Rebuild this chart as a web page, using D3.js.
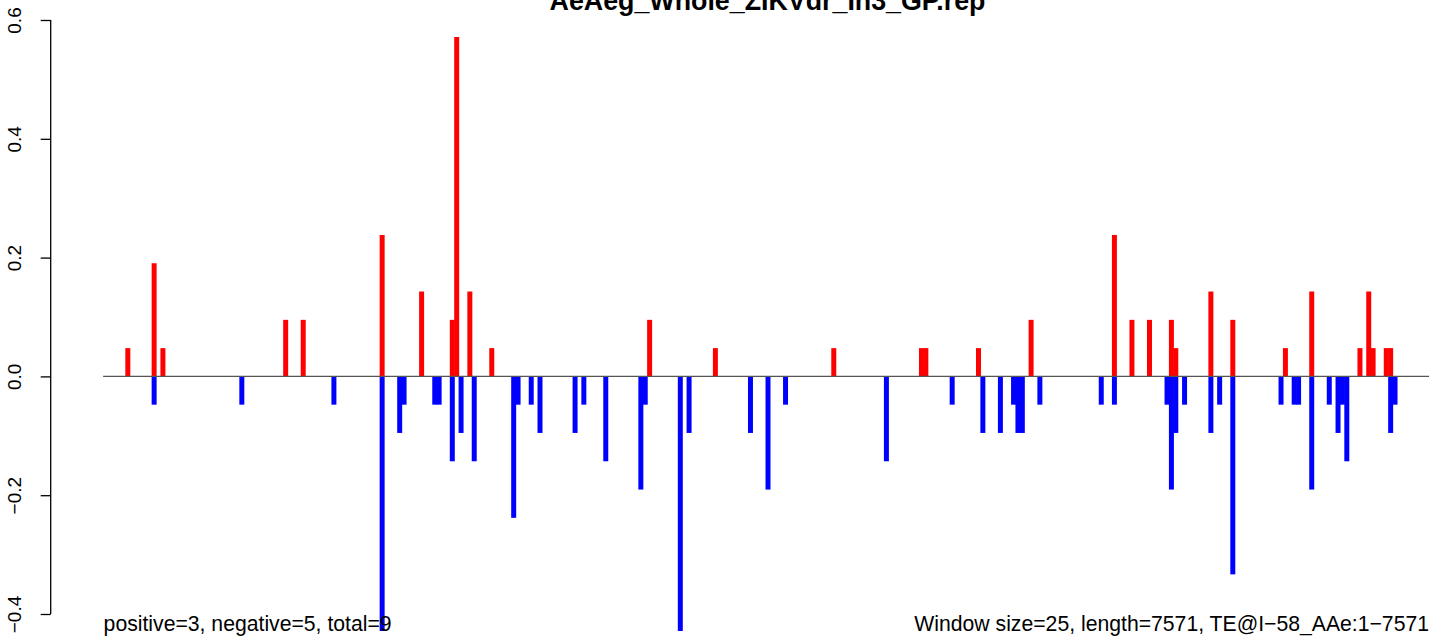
<!DOCTYPE html>
<html>
<head>
<meta charset="utf-8">
<script src="https://cdn.jsdelivr.net/npm/d3@7"></script>
<style>
  html, body { margin: 0; padding: 0; background: #fff; }
  svg { display: block; font-family: "Liberation Sans", Arial, Helvetica, sans-serif; }
</style>
</head>
<body>
<svg id="chart" width="1429" height="639"></svg>
<script>
// ---- data (window index along the 7571 bp sequence, window size 25) ----
const titleText = "AeAeg_Whole_ZIKVdr_In3_GP.rep";
const leftNote = "positive=3, negative=5, total=9";
const rightNote = "Window size=25, length=7571, TE@I\u221258_AAe:1\u22127571";
const seqLength = 7571;
const windowSize = 25;
const yTicks = [-0.4, -0.2, 0.0, 0.2, 0.4, 0.6];
const yTickLabels = ["\u22120.4", "\u22120.2", "0.0", "0.2", "0.4", "0.6"];

// positive (red) bars: window index and value
const posWindow = [5, 11, 13, 41, 45, 63, 72, 79, 80, 83, 88, 124, 139, 166, 186, 187, 199, 211,
  230, 234, 238, 243, 244, 252, 257, 269, 275, 286, 288, 289, 292, 293];
const posValue = [0.0476, 0.1905, 0.0476, 0.0952, 0.0952, 0.2381, 0.1429, 0.0952, 0.5714, 0.1429,
  0.0476, 0.0952, 0.0476, 0.0476, 0.0476, 0.0476, 0.0476, 0.0952,
  0.2381, 0.0952, 0.0952, 0.0952, 0.0476, 0.1429, 0.0952, 0.0476, 0.1429, 0.0476, 0.1429, 0.0476,
  0.0476, 0.0476];

// negative (blue) bars: window index and value
const negWindow = [11, 31, 52, 63, 67, 68, 75, 76, 79, 81, 84, 93, 94, 97, 99, 107, 109, 114, 122,
  123, 131, 133, 147, 151, 155, 178, 193, 200, 204, 207, 208, 209, 213, 227, 230, 242, 243, 244,
  246, 252, 254, 257, 268, 271, 272, 275, 279, 281, 282, 283, 293, 294];
const negValue = [-0.0476, -0.0476, -0.0476, -0.4286, -0.0952, -0.0476, -0.0476, -0.0476, -0.1429,
  -0.0952, -0.1429, -0.2381, -0.0476, -0.0476, -0.0952, -0.0952, -0.0476, -0.1429, -0.1905,
  -0.0476, -0.4286, -0.0952, -0.0952, -0.1905, -0.0476, -0.1429, -0.0476, -0.0952, -0.0952,
  -0.0476, -0.0952, -0.0952, -0.0476, -0.0476, -0.0476, -0.0476, -0.1905, -0.0952,
  -0.0476, -0.0952, -0.0476, -0.3333, -0.0476, -0.0476, -0.0476, -0.1905, -0.0476, -0.0952,
  -0.0476, -0.1429, -0.0952, -0.0476];

// ---- drawing ----
const svg = d3.select("#chart");
const nWindows = seqLength / windowSize;

const x = d3.scaleLinear().domain([0, nWindows]).range([103.1, 1431]);
const y = d3.scaleLinear().domain([-0.4, 0.6]).range([614, 20]);

const barW = x(1) - x(0) + 0.6;

const pos = posWindow.map((w, i) => ({ w, v: posValue[i] }));
const neg = negWindow.map((w, i) => ({ w, v: negValue[i] }));

svg.append("g").selectAll("rect").data(pos).join("rect")
  .attr("x", d => x(d.w + 0.07))
  .attr("width", barW)
  .attr("y", d => y(d.v))
  .attr("height", d => y(0) - y(d.v))
  .attr("fill", "#ff0000");

svg.append("g").selectAll("rect").data(neg).join("rect")
  .attr("x", d => x(d.w + 0.07))
  .attr("width", barW)
  .attr("y", y(0))
  .attr("height", d => y(d.v) - y(0))
  .attr("fill", "#0000ff");

// zero line
svg.append("line")
  .attr("x1", x(0)).attr("x2", x(nWindows))
  .attr("y1", y(0)).attr("y2", y(0))
  .attr("stroke", "#555").attr("stroke-width", 1.3);

// y axis
const yAxis = d3.axisLeft(y).tickValues(yTicks).tickSize(10)
  .tickFormat((d, i) => yTickLabels[i]);
const gy = svg.append("g").attr("transform", "translate(50.7,0)").call(yAxis);
gy.select(".domain").attr("stroke", "#000").attr("stroke-width", 1.3)
  .attr("d", `M0,${y(0.6)}V${y(-0.4)}`);
gy.selectAll(".tick line").attr("stroke", "#000").attr("stroke-width", 1.3);
gy.selectAll(".tick text")
  .attr("font-size", 19)
  .attr("font-family", "Liberation Sans, Arial, sans-serif")
  .attr("fill", "#000")
  .attr("x", null).attr("dy", null)
  .attr("text-anchor", "middle")
  .attr("transform", "translate(-29.5,0) rotate(-90)");

// title
svg.append("text")
  .attr("x", 767.5).attr("y", 9.5)
  .attr("text-anchor", "middle")
  .attr("font-weight", "bold")
  .attr("font-size", 26.8)
  .text(titleText);

// notes
svg.append("text")
  .attr("x", x(0) + 0.5).attr("y", 631)
  .attr("font-size", 21.2)
  .text(leftNote);
svg.append("text")
  .attr("x", 1429).attr("y", 631)
  .attr("text-anchor", "end")
  .attr("font-size", 21.2)
  .text(rightNote);
</script>
</body>
</html>
